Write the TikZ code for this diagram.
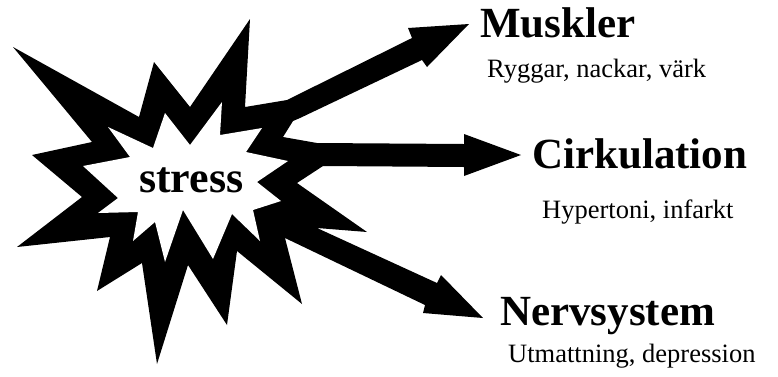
\documentclass[tikz,border=0pt]{standalone}
\usepackage{fontspec}
\setmainfont{Liberation Serif}
\begin{document}
\begin{tikzpicture}[x=1pt,y=-1pt,
  burst/.style={fill=black,draw=none},
  core/.style={fill=white,draw=none},
  head/.style={anchor=base west,inner sep=0pt,font=\fontsize{43}{43}\selectfont\bfseries},
  sub/.style={anchor=base west,inner sep=0pt,font=\fontsize{26.5}{26.5}\selectfont}]
\useasboundingbox (0,0) rectangle (778,376);
% outer starburst with the three arrows
\fill[burst] (13,47) -- (139,117) -- (154,62) -- (190,107) -- (250,19) -- (245,107)
  -- (287,100) -- (412,38) -- (408,28) -- (469,24) -- (427,67) -- (422,60)
  -- (300,118) -- (293,121) -- (283,137) -- (317,143) -- (464,144)
  -- (464,134) -- (521,155) -- (464,176) -- (464,167) -- (323,166)
  -- (297,183) -- (367,232) -- (317,228) -- (437,283) -- (441,275)
  -- (483,318) -- (423,313) -- (425,305) -- (285,238) -- (302,304)
  -- (237,251) -- (227,325) -- (188,265) -- (157,364) -- (142,263)
  -- (97,291) -- (110,237) -- (17,247) -- (82,197) -- (32,155)
  -- (92,142) -- cycle;
% inner white star
\fill[core] (108,127) -- (153,148) -- (165,113) -- (190,145) -- (222,102)
  -- (220,135) -- (262,128) -- (246,152) -- (288,161) -- (257,182)
  -- (281,201) -- (253,210) -- (260,241) -- (232,214) -- (213,259)
  -- (183,210) -- (165,262) -- (155,222) -- (133,241) -- (138,212)
  -- (98,213) -- (118,198) -- (83,166) -- (130,157) -- cycle;
\node[anchor=base west,inner sep=0pt,font=\fontsize{44}{44}\selectfont\bfseries] (stress) at (139,192) {stress};
\node[head] (musk) at (480,37) {Muskler};
\node[sub] (muskt) at (487,77) {Ryggar, nackar, värk};
\node[head] (cirk) at (532,168) {Cirkulation};
\node[sub] (cirkt) at (542,218) {Hypertoni, infarkt};
\node[head] (nerv) at (500,325) {Nervsystem};
\node[sub] (nervt) at (508,362) {Utmattning, depression};
\end{tikzpicture}
\end{document}
